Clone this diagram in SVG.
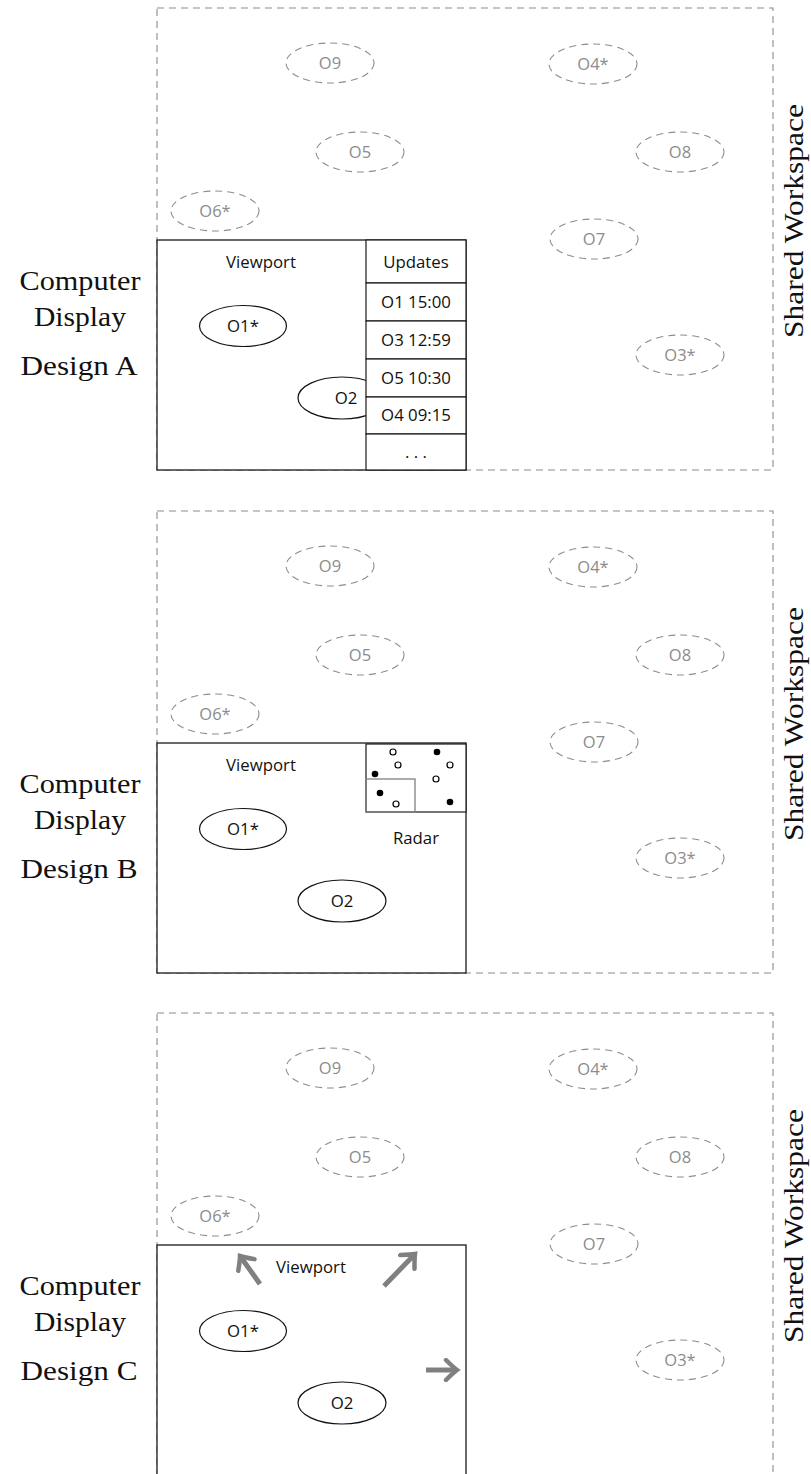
<svg xmlns="http://www.w3.org/2000/svg" width="811" height="1474" viewBox="0 0 811 1474">
  <style>
    .ws { fill: none; stroke: #8c8c8c; stroke-width: 1.1; stroke-dasharray: 7 5; }
    .far ellipse { fill: none; stroke: #8c8c8c; stroke-width: 1.1; stroke-dasharray: 7 5; }
    .far text { font-family: "Open Sans", sans-serif; font-size: 16.5px; fill: #8c8c8c; text-anchor: middle; }
    .display { fill: #fff; stroke: #1a1a1a; stroke-width: 1.3; }
    .cell { fill: #fff; stroke: #1a1a1a; stroke-width: 1.2; }
    .obj ellipse { fill: #fff; stroke: #111; stroke-width: 1.2; }
    .sans { font-family: "Open Sans", sans-serif; font-size: 16.8px; fill: #111; text-anchor: middle; }
    .serif { font-family: "Liberation Serif", serif; font-size: 27px; fill: #111; text-anchor: middle; }
    .pan { stroke: #808080; stroke-width: 5; fill: none; }
    .dot-open { fill: #fff; stroke: #000; stroke-width: 1.2; }
    .dot-full { fill: #000; }
  </style>
  <defs>
    <marker id="pan-tip" markerUnits="userSpaceOnUse" markerWidth="24" markerHeight="24" viewBox="-14 -12 16 24" refX="0" refY="0" orient="auto">
      <path d="M -11 -10 Q -4 -3 0 0 Q -4 3 -11 10" fill="none" stroke="#808080" stroke-width="4.5" stroke-linecap="round"/>
    </marker>
  </defs>

  <!-- ===== Design A: viewport + updates list ===== -->
  <g id="panel-a">
    <rect id="workspace-a" class="ws" x="157" y="8" width="616" height="462"/>
    <text class="serif" transform="translate(803,221) rotate(-90)" textLength="234" lengthAdjust="spacingAndGlyphs">Shared Workspace</text>
    <g class="far">
      <g id="a-o9"><ellipse cx="330" cy="63" rx="44" ry="20"/><text x="330" y="69">O9</text></g>
      <g id="a-o4"><ellipse cx="593" cy="64" rx="44" ry="20"/><text x="593" y="70">O4*</text></g>
      <g id="a-o5"><ellipse cx="360" cy="152" rx="44" ry="20"/><text x="360" y="158">O5</text></g>
      <g id="a-o8"><ellipse cx="680" cy="152" rx="44" ry="20"/><text x="680" y="158">O8</text></g>
      <g id="a-o6"><ellipse cx="215" cy="211" rx="44" ry="20"/><text x="215" y="217">O6*</text></g>
      <g id="a-o7"><ellipse cx="594" cy="239" rx="44" ry="20"/><text x="594" y="245">O7</text></g>
      <g id="a-o3"><ellipse cx="680" cy="355" rx="44" ry="20"/><text x="680" y="361">O3*</text></g>
    </g>
    <g id="a-display">
      <rect class="display" x="157" y="240" width="309" height="230"/>
      <text class="sans" x="261" y="268">Viewport</text>
    </g>
    <g class="obj">
      <g id="a-o1"><ellipse cx="243" cy="326" rx="43.5" ry="20.5"/><text class="sans" x="243" y="332">O1*</text></g>
      <g id="a-o2"><ellipse cx="342" cy="398" rx="44" ry="21"/><text class="sans" x="346" y="404">O2</text></g>
    </g>
    <g id="a-updates">
      <rect class="cell" x="366" y="240" width="100" height="43"/>
      <rect class="cell" x="366" y="283" width="100" height="38"/>
      <rect class="cell" x="366" y="321" width="100" height="38"/>
      <rect class="cell" x="366" y="359" width="100" height="38"/>
      <rect class="cell" x="366" y="397" width="100" height="37"/>
      <rect class="cell" x="366" y="434" width="100" height="36"/>
      <text class="sans" x="416" y="268">Updates</text>
      <text class="sans" x="416" y="308">O1 15:00</text>
      <text class="sans" x="416" y="346">O3 12:59</text>
      <text class="sans" x="416" y="384">O5 10:30</text>
      <text class="sans" x="416" y="421">O4 09:15</text>
      <text class="sans" x="416" y="458">. . .</text>
    </g>
    <g id="a-caption">
      <text class="serif" x="80" y="290" textLength="121" lengthAdjust="spacingAndGlyphs">Computer</text>
      <text class="serif" x="80" y="326" textLength="92" lengthAdjust="spacingAndGlyphs">Display</text>
      <text class="serif" x="79" y="375" textLength="117" lengthAdjust="spacingAndGlyphs">Design A</text>
    </g>
  </g>

  <!-- ===== Design B: viewport + radar ===== -->
  <g id="panel-b" transform="translate(0,503)">
    <rect id="workspace-b" class="ws" x="157" y="8" width="616" height="462"/>
    <text class="serif" transform="translate(803,221) rotate(-90)" textLength="234" lengthAdjust="spacingAndGlyphs">Shared Workspace</text>
    <g class="far">
      <g id="b-o9"><ellipse cx="330" cy="63" rx="44" ry="20"/><text x="330" y="69">O9</text></g>
      <g id="b-o4"><ellipse cx="593" cy="64" rx="44" ry="20"/><text x="593" y="70">O4*</text></g>
      <g id="b-o5"><ellipse cx="360" cy="152" rx="44" ry="20"/><text x="360" y="158">O5</text></g>
      <g id="b-o8"><ellipse cx="680" cy="152" rx="44" ry="20"/><text x="680" y="158">O8</text></g>
      <g id="b-o6"><ellipse cx="215" cy="211" rx="44" ry="20"/><text x="215" y="217">O6*</text></g>
      <g id="b-o7"><ellipse cx="594" cy="239" rx="44" ry="20"/><text x="594" y="245">O7</text></g>
      <g id="b-o3"><ellipse cx="680" cy="355" rx="44" ry="20"/><text x="680" y="361">O3*</text></g>
    </g>
    <g id="b-display">
      <rect class="display" x="157" y="240" width="309" height="230"/>
      <text class="sans" x="261" y="268">Viewport</text>
    </g>
    <g class="obj">
      <g id="b-o1"><ellipse cx="243" cy="326" rx="43.5" ry="20.5"/><text class="sans" x="243" y="332">O1*</text></g>
      <g id="b-o2"><ellipse cx="342" cy="398" rx="44" ry="21"/><text class="sans" x="342" y="404">O2</text></g>
    </g>
    <g id="b-radar">
      <rect class="cell" x="366" y="241" width="100" height="68"/>
      <rect x="366" y="276" width="49" height="33" fill="none" stroke="#808080" stroke-width="1.3"/>
      <circle class="dot-open" cx="393" cy="249" r="3"/>
      <circle class="dot-full" cx="437" cy="249" r="3.3"/>
      <circle class="dot-open" cx="398" cy="262" r="3"/>
      <circle class="dot-open" cx="450" cy="262" r="3"/>
      <circle class="dot-full" cx="375" cy="271" r="3.3"/>
      <circle class="dot-open" cx="436" cy="276" r="3"/>
      <circle class="dot-full" cx="380" cy="290" r="3.3"/>
      <circle class="dot-open" cx="396" cy="301" r="3"/>
      <circle class="dot-full" cx="450" cy="299" r="3.3"/>
      <text class="sans" x="416" y="341">Radar</text>
    </g>
    <g id="b-caption">
      <text class="serif" x="80" y="290" textLength="121" lengthAdjust="spacingAndGlyphs">Computer</text>
      <text class="serif" x="80" y="326" textLength="92" lengthAdjust="spacingAndGlyphs">Display</text>
      <text class="serif" x="79" y="375" textLength="117" lengthAdjust="spacingAndGlyphs">Design B</text>
    </g>
  </g>

  <!-- ===== Design C: viewport with off-screen direction arrows ===== -->
  <g id="panel-c" transform="translate(0,1005)">
    <rect id="workspace-c" class="ws" x="157" y="8" width="616" height="462"/>
    <text class="serif" transform="translate(803,221) rotate(-90)" textLength="234" lengthAdjust="spacingAndGlyphs">Shared Workspace</text>
    <g class="far">
      <g id="c-o9"><ellipse cx="330" cy="63" rx="44" ry="20"/><text x="330" y="69">O9</text></g>
      <g id="c-o4"><ellipse cx="593" cy="64" rx="44" ry="20"/><text x="593" y="70">O4*</text></g>
      <g id="c-o5"><ellipse cx="360" cy="152" rx="44" ry="20"/><text x="360" y="158">O5</text></g>
      <g id="c-o8"><ellipse cx="680" cy="152" rx="44" ry="20"/><text x="680" y="158">O8</text></g>
      <g id="c-o6"><ellipse cx="215" cy="211" rx="44" ry="20"/><text x="215" y="217">O6*</text></g>
      <g id="c-o7"><ellipse cx="594" cy="239" rx="44" ry="20"/><text x="594" y="245">O7</text></g>
      <g id="c-o3"><ellipse cx="680" cy="355" rx="44" ry="20"/><text x="680" y="361">O3*</text></g>
    </g>
    <g id="c-display">
      <rect class="display" x="157" y="240" width="309" height="230"/>
      <text class="sans" x="311" y="268">Viewport</text>
    </g>
    <g class="obj">
      <g id="c-o1"><ellipse cx="243" cy="326" rx="43.5" ry="20.5"/><text class="sans" x="243" y="332">O1*</text></g>
      <g id="c-o2"><ellipse cx="342" cy="398" rx="44" ry="21"/><text class="sans" x="342" y="404">O2</text></g>
    </g>
    <g id="connectors">
      <line class="pan" x1="260" y1="279" x2="240" y2="251" marker-end="url(#pan-tip)"/>
      <line class="pan" x1="384" y1="281" x2="415" y2="249" marker-end="url(#pan-tip)"/>
      <line class="pan" x1="426" y1="365" x2="457" y2="365" marker-end="url(#pan-tip)"/>
    </g>
    <g id="c-caption">
      <text class="serif" x="80" y="290" textLength="121" lengthAdjust="spacingAndGlyphs">Computer</text>
      <text class="serif" x="80" y="326" textLength="92" lengthAdjust="spacingAndGlyphs">Display</text>
      <text class="serif" x="79" y="375" textLength="117" lengthAdjust="spacingAndGlyphs">Design C</text>
    </g>
  </g>
</svg>
